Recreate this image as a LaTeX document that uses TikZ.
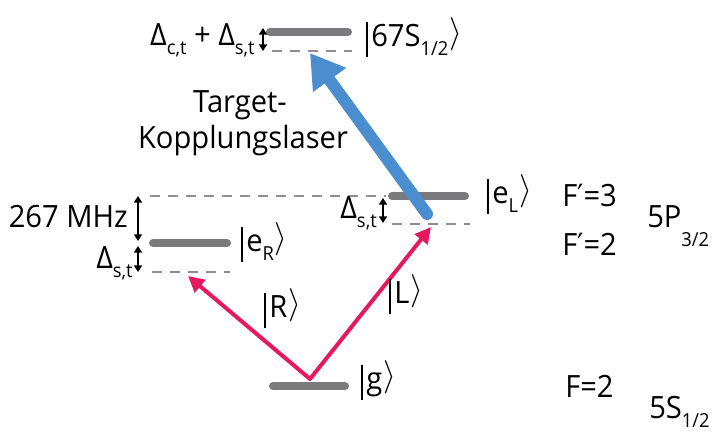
\documentclass[tikz,border=0pt]{standalone}
\usepackage{fontspec}
\setmainfont{Open Sans}[FakeStretch=0.95]
\newfontfamily\dejavu{DejaVu Sans}[FakeStretch=0.9]
\usetikzlibrary{arrows.meta}
\usepackage{graphicx}
\definecolor{lvlgray}{HTML}{7B7B7D}
\definecolor{dashgray}{HTML}{8E8E90}
\definecolor{laserred}{HTML}{E8185E}
\definecolor{laserblue}{HTML}{4A8ED0}
\newcommand\lsub[1]{\raisebox{-0.3em}{\fontsize{14.5}{14.5}\selectfont #1}}
\newcommand\dsub[1]{\raisebox{-0.62em}{\fontsize{14.5}{14.5}\selectfont #1}}
\newcommand\ket[1]{\rule[-0.36em]{0.065em}{1.15em}\kern0.1em#1\kern0.03em\raisebox{0.1em}{\scalebox{1.0}{$\rangle$}}}
\newcommand\prm{{\dejavu ′}}
\begin{document}
\begin{tikzpicture}[x=0.75pt,y=-0.75pt,
  font=\fontsize{23}{27}\selectfont,
  level/.style={line width=6pt,line cap=round,draw=lvlgray},
  dashlevel/.style={line width=1.5pt,draw=dashgray,dash pattern=on 7.5pt off 6pt},
  dimarrow/.style={line width=1.3pt,{Triangle[length=5pt,width=6pt]}-{Triangle[length=5pt,width=6pt]}},
  redlaser/.style={line width=3pt,draw=laserred,-{Triangle[length=12pt,width=12pt]},color=laserred},
  bluelaser/.style={line width=9pt,draw=laserblue,line cap=round,-{Triangle[length=25pt,width=29pt]},color=laserblue},
  txt/.style={inner sep=0pt,anchor=base west}]
\useasboundingbox (0,0) rectangle (713,432);

% Rydberg level
\coordinate (ryA) at (270,32); \coordinate (ryB) at (348,32);
\coordinate (rdA) at (272,51); \coordinate (rdB) at (352,51);
\draw[level] (ryA) -- (ryB);
\draw[dashlevel] (rdA) -- (rdB);
\coordinate (ryT) at (263,28); \coordinate (ryD) at (263,51);
\draw[dimarrow] (ryT) -- (ryD);

% 5P levels
\coordinate (f3A) at (150,196); \coordinate (f3B) at (386,196);
\draw[dashlevel] (f3A) -- (f3B);
\coordinate (eLA) at (392,196); \coordinate (eLB) at (465,196);
\draw[level] (eLA) -- (eLB);
\coordinate (eLdA) at (392,224); \coordinate (eLdB) at (470,224);
\draw[dashlevel] (eLdA) -- (eLdB);
\coordinate (eLT) at (383,198); \coordinate (eLD) at (383,223);
\draw[dimarrow] (eLT) -- (eLD);

\coordinate (eRA) at (153,243); \coordinate (eRB) at (227,243);
\draw[level] (eRA) -- (eRB);
\coordinate (eRdA) at (152,272); \coordinate (eRdB) at (230,272);
\draw[dashlevel] (eRdA) -- (eRdB);
\coordinate (mT) at (138,196); \coordinate (mD) at (138,241);
\draw[dimarrow] (mT) -- (mD);
\coordinate (sT) at (138,246); \coordinate (sD) at (138,272);
\draw[dimarrow] (sT) -- (sD);

% ground
\coordinate (gA) at (273,386); \coordinate (gB) at (345,386);
\draw[level] (gA) -- (gB);

% lasers
\coordinate (gO) at (310,379);
\coordinate (rEnd) at (188,276);
\coordinate (lEnd) at (431,227);
\draw[redlaser] (gO) -- (rEnd);
\draw[redlaser,line cap=round] (gO) -- (lEnd);
\coordinate (bS) at (427,214);
\coordinate (bE) at (310,53);
\draw[bluelaser] (bS) -- (bE);

% labels
\node[txt] (kRyd) at (366,46) {\ket{67S\lsub{1/2}}};
\node[inner sep=0pt,anchor=base east] (dct) at (255,45) {Δ\lsub{c,t} + Δ\lsub{s,t}};
\node[inner sep=0pt,anchor=base] (tg1) at (240,112) {Target-};
\node[inner sep=0pt,anchor=base] (tg2) at (243,148) {Kopplungslaser};
\node[inner sep=0pt,anchor=base east] (mhz) at (128,227) {267 MHz};
\node[inner sep=0pt,anchor=base east] (dsL) at (133,268) {Δ\lsub{s,t}};
\node[inner sep=0pt,anchor=base east] (dsR) at (377,218) {Δ\lsub{s,t}};
\node[txt] (keR) at (241,251) {\ket{e\lsub{R}}};
\node[txt] (keL) at (487,203) {\ket{e\lsub{L}}};
\node[txt] (kR) at (264,317) {\ket{R}};
\node[txt] (kL) at (389,303) {\ket{L}};
\node[txt] (kg) at (361,389) {\ket{g}};
\node[txt] (fp3) at (562,206) {F\prm=3};
\node[txt] (fp2) at (562,255) {F\prm=2};
\node[txt] (p32) at (647,227) {5P\dsub{3/2}};
\node[txt] (f2) at (565,397) {F=2};
\node[txt] (s12) at (649,418) {5S\lsub{1/2}};
\end{tikzpicture}
\end{document}
